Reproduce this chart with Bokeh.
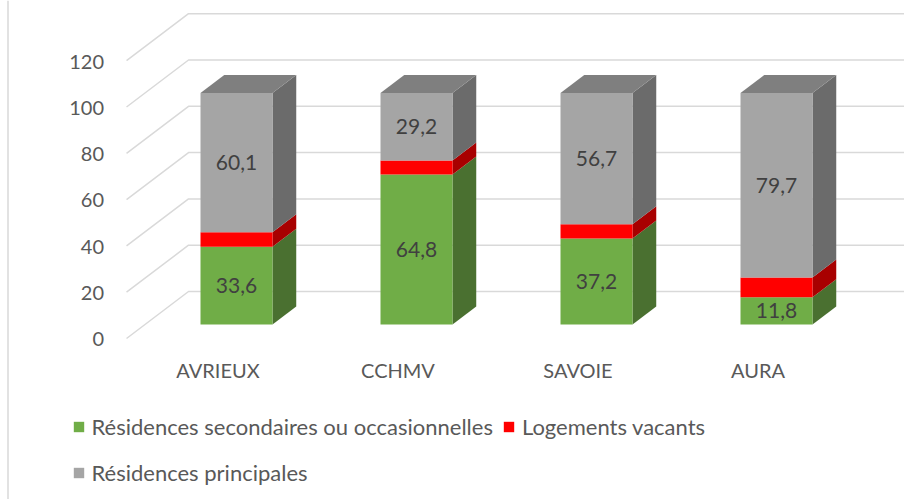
from bokeh.plotting import figure
from bokeh.models import Range1d, Legend, LegendItem, Span
from bokeh.embed import file_html
from bokeh.resources import INLINE
from bokeh.core.properties import value

# ---------------- data ----------------
categories = ["AVRIEUX", "CCHMV", "SAVOIE", "AURA"]
secondaires = [33.6, 64.8, 37.2, 11.8]
vacants = [6.3, 6.0, 6.1, 8.5]
principales = [60.1, 29.2, 56.7, 79.7]
series_names = ["Résidences secondaires ou occasionnelles", "Logements vacants", "Résidences principales"]
y_ticks = [0, 20, 40, 60, 80, 100, 120]

# ---------------- styles ----------------
front_colors = ["#70AD47", "#FF0000", "#A5A5A5"]
side_colors = ["#4A7030", "#A80000", "#6B6B6B"]
top_color = "#7F7F7F"
grid_color = "#D9D9D9"
axis_text = "#595959"
label_text = "#404040"
FONT = "Lato"

W, H = 904, 499
PXX = 180.0      # px per category step
PXY = 2.315      # px per value unit
X_MIN = -236 / PXX
X_MAX = X_MIN + W / PXX
Y_MAX = 324 / PXY
Y_MIN = Y_MAX - H / PXY
SLOPE = 1.319    # horizontal px per vertical px of depth
BAR_HALF = 36 / PXX
BAR_DEPTH = 18   # px
FRONT_T = -14    # front floor edge, px of depth relative to bar front
BACK_T = 33      # back wall
WALL_X = (144.5 - 236) / PXX


def off(t):
    return t * SLOPE / PXX, t / PXY


p = figure(width=W, height=H, output_backend="svg", toolbar_location=None,
           x_range=Range1d(X_MIN, X_MAX), y_range=Range1d(Y_MIN, Y_MAX),
           min_border=0, outline_line_color=None)
p.xaxis.visible = False
p.yaxis.visible = False
p.xgrid.visible = False
p.ygrid.visible = False

# chart border on the left
p.add_layout(Span(location=X_MIN + 7.5 / PXX, dimension="height", line_color=grid_color, line_width=1.5))

# wall gridlines
fx, fy = off(FRONT_T)
bx, by = off(BACK_T)
gxs, gys = [], []
for v in y_ticks:
    gxs.append([WALL_X + fx, WALL_X + bx, X_MAX + 1])
    gys.append([v + fy, v + by, v + by])
p.multi_line(gxs, gys, line_color=grid_color, line_width=1.5)

# tick labels
p.text(x=[(103.5 - 236) / PXX] * len(y_ticks), y=[v - 6.4 for v in y_ticks],
       text=[str(v) for v in y_ticks], text_align="right", text_baseline="middle",
       text_font=value(FONT), text_font_size="20px", text_color=axis_text)

# category labels
cx = [i + (-18.5 / PXX) for i in range(len(categories))]
p.text(x=cx, y=[-45.5 / PXY] * len(categories), text=categories, text_align="center",
       text_baseline="middle", text_font=value(FONT), text_font_size="20px", text_color=axis_text)

# bars
series = [secondaires, vacants, principales]
dx, dy = off(BAR_DEPTH)
front_renderers = []
for s, vals in enumerate(series):
    bottoms = [sum(series[k][i] for k in range(s)) for i in range(len(categories))]
    tops = [b + v for b, v in zip(bottoms, vals)]
    lefts = [i - BAR_HALF for i in range(len(categories))]
    rights = [i + BAR_HALF for i in range(len(categories))]
    # side faces
    sxs = [[r, r + dx, r + dx, r] for r in rights]
    sys_ = [[b, b + dy, t + dy, t] for b, t in zip(bottoms, tops)]
    p.patches(sxs, sys_, fill_color=side_colors[s], line_color=None)
    r = p.quad(left=lefts, right=rights, bottom=bottoms, top=tops,
               fill_color=front_colors[s], line_color=None)
    front_renderers.append(r)
    if s == len(series) - 1:
        txs = [[l, rr, rr + dx, l + dx] for l, rr in zip(lefts, rights)]
        tys = [[t, t, t + dy, t + dy] for t in tops]
        p.patches(txs, tys, fill_color=top_color, line_color=None)
    # data labels (not for vacants)
    if s != 1:
        p.text(x=list(range(len(categories))), y=[(b + t) / 2 for b, t in zip(bottoms, tops)],
               text=[f"{v:.1f}".replace(".", ",") for v in vals], text_align="center",
               text_baseline="middle", text_font=value(FONT), text_font_size="21px",
               text_color=label_text)

# legends
common = dict(orientation="horizontal", glyph_width=13, glyph_height=13, label_standoff=7,
              spacing=9, padding=0, margin=0, border_line_color=None, background_fill_alpha=0,
              label_text_font=FONT, label_text_font_size="22px", label_text_color=axis_text)
leg1 = Legend(items=[LegendItem(label=series_names[0], renderers=[front_renderers[0]]),
                     LegendItem(label=series_names[1], renderers=[front_renderers[1]])],
              location=(71.5, H - 440), **common)
leg2 = Legend(items=[LegendItem(label=series_names[2], renderers=[front_renderers[2]])],
              location=(71.5, H - 486), **common)
p.add_layout(leg1)
p.add_layout(leg2)

open("out.html", "w").write(file_html(p, INLINE))
